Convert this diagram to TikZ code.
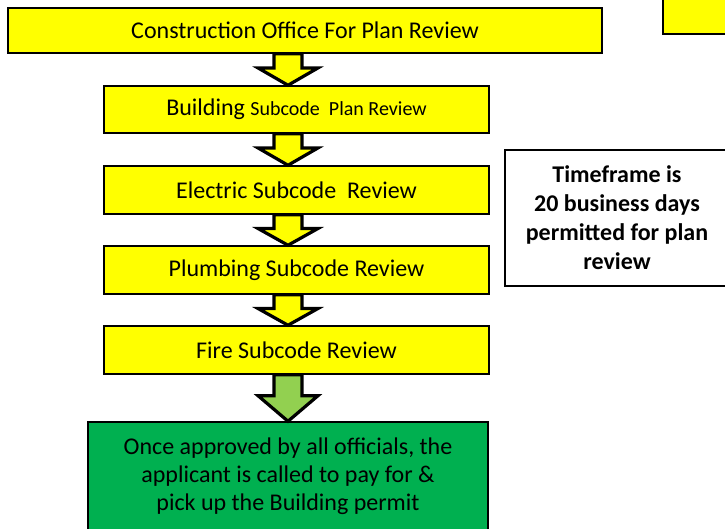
\documentclass[tikz,border=0pt]{standalone}
\usepackage{fontspec}
\setmainfont{Carlito}
\usetikzlibrary{calc,shadows}

\definecolor{stepyellow}{HTML}{FFFF00}
\definecolor{stepgreen}{HTML}{00B050}
\definecolor{arrowgreen}{HTML}{92D050}

\tikzset{
  stepbox/.style={draw, line width=1.5pt, fill=stepyellow, inner sep=0pt, align=center,
    font=\fontsize{24}{29}\selectfont,
    drop shadow={shadow xshift=1.2pt, shadow yshift=-1.2pt, fill=black!55, opacity=1}},
  notebox/.style={stepbox, fill=white, font=\bfseries\fontsize{24}{29}\selectfont},
  blockarrow/.style={draw, line width=3.2pt, line join=miter},
}

\def\arrowx{288pt}
\def\shafthalf{14pt}
\def\headhalf{30pt}
% block arrow from the bottom of one box to the top of the next
\newcommand{\downblock}[3]{%
  \draw[blockarrow, fill=#3] let \p1=(#1.south), \p2=(#2.north),
      \p3=($(#1.south)!0.45!(#2.north)$) in
    ({\arrowx-\shafthalf},\y1) -- ({\arrowx-\shafthalf},\y3) -- ({\arrowx-\headhalf},\y3)
    -- (\arrowx,\y2) -- ({\arrowx+\headhalf},\y3) -- ({\arrowx+\shafthalf},\y3)
    -- ({\arrowx+\shafthalf},\y1) -- cycle;}

\begin{document}
\begin{tikzpicture}[x=1pt,y=-1pt]
\useasboundingbox (0,0) rectangle (725,528);

\node[stepbox, minimum width=594, minimum height=45] (office) at (305,30.5) {Construction Office For Plan Review};
\node[stepbox, minimum width=114, minimum height=40] (corner) at (720,14) {};

\node[stepbox, minimum width=385, minimum height=47] (building) at (296.5,109.5)
  {Building {\fontsize{20}{24}\selectfont Subcode\ \ Plan Review}};
\node[stepbox, minimum width=385, minimum height=48] (electric) at (296.5,190) {Electric Subcode\ \ Review};
\node[stepbox, minimum width=385, minimum height=48] (plumbing) at (296.5,270) {Plumbing Subcode Review};
\node[stepbox, minimum width=385, minimum height=48] (fire) at (296.5,350) {Fire Subcode Review};
\node[stepbox, fill=stepgreen, font=\fontsize{24}{28}\selectfont, minimum width=400, minimum height=108] (permit) at (288,476)
  {Once approved by all officials, the\\applicant is called to pay for \&\\pick up the Building permit};

\node[notebox, minimum width=224, minimum height=136] (timeframe) at (617,218)
  {Timeframe is\\20 business days\\permitted for plan\\review};

\downblock{office}{building}{stepyellow}
\downblock{building}{electric}{stepyellow}
\downblock{electric}{plumbing}{stepyellow}
\downblock{plumbing}{fire}{stepyellow}
\downblock{fire}{permit}{arrowgreen}

\end{tikzpicture}
\end{document}
